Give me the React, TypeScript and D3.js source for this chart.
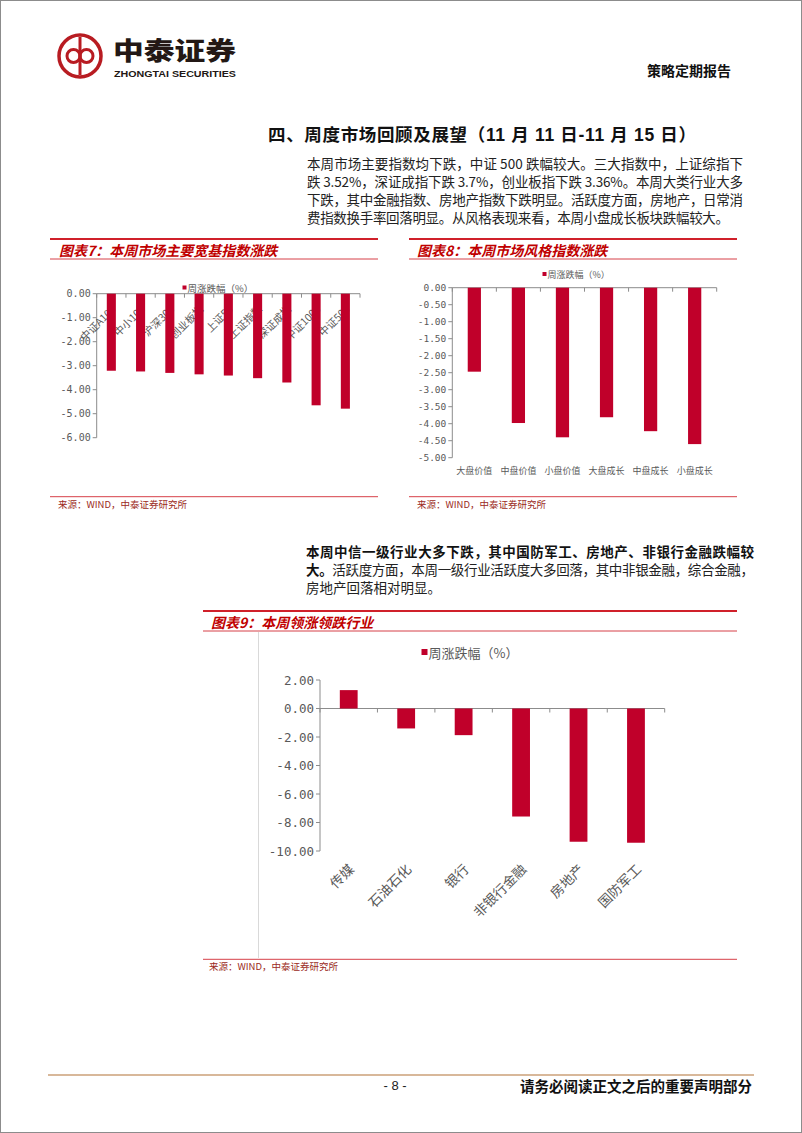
import React from "react";
import * as d3 from "d3";

// ---------- data ----------
const cats7 = ["中证A100", "中小100", "沪深300", "创业板指", "上证50", "上证指数", "深证成指", "中证1000", "中证500"];
const vals7 = [-3.21, -3.24, -3.3, -3.36, -3.41, -3.52, -3.7, -4.65, -4.79];

const cats8 = ["大盘价值", "中盘价值", "小盘价值", "大盘成长", "中盘成长", "小盘成长"];
const vals8 = [-2.47, -3.98, -4.4, -3.81, -4.22, -4.6];

const cats9 = ["传媒", "石油石化", "银行", "非银行金融", "房地产", "国防军工"];
const vals9 = [1.29, -1.4, -1.87, -7.58, -9.35, -9.42];

const legendLabel = "周涨跌幅（%）";
const sourceLabel = "来源：WIND，中泰证券研究所";

const heading = "四、周度市场回顾及展望（11 月 11 日-11 月 15 日）";
const para1 = [
  "本周市场主要指数均下跌，中证 500 跌幅较大。三大指数中，上证综指下",
  "跌 3.52%，深证成指下跌 3.7%，创业板指下跌 3.36%。本周大类行业大多",
  "下跌，其中金融指数、房地产指数下跌明显。活跃度方面，房地产，日常消",
  "费指数换手率回落明显。从风格表现来看，本周小盘成长板块跌幅较大。",
];
const para2Bold1 = "本周中信一级行业大多下跌，其中国防军工、房地产、非银行金融跌幅较";
const para2Bold2 = "大。";
const para2Line2 = "活跃度方面，本周一级行业活跃度大多回落，其中非银金融，综合金融，";
const para2Line3 = "房地产回落相对明显。";

// ---------- styles ----------
const CJK = "'Noto Sans CJK SC', 'Noto Sans', sans-serif";
const LAT = "'Liberation Sans', 'Noto Sans CJK SC', sans-serif";
const NUM = "'DejaVu Sans Mono', monospace";
const BAR = "#c0002a";
const AXIS = "#8c8c8c";
const TXT = "#595959";
const TITLE_RED = "#c00000";
const LINE_RED = "#d0202a";

type ChartProps = {
  cats: string[];
  vals: number[];
  x0: number;
  x1: number;
  yTop: number;
  yBot: number;
  dMin: number;
  dMax: number;
  step: number;
  barFrac: number;
  tickFont: number;
  labelMode: "rotAxis" | "rotBottom" | "flat";
  labelFont: number;
  labelOff: number;
  labelDx: number;
  legendX: number;
  legendY: number;
  legendFont: number;
  legendSq: number;
  axisLeftExt?: number;
};

function BarChart(p: ChartProps) {
  const x = d3.scaleBand<string>().domain(p.cats).range([p.x0, p.x1]);
  const y = d3.scaleLinear().domain([p.dMin, p.dMax]).range([p.yBot, p.yTop]);
  const ticks = d3.range(p.dMin, p.dMax + p.step / 2, p.step);
  const bw = x.bandwidth();
  const y0 = y(0);
  const barW = bw * p.barFrac;
  const boundaries = [...p.cats.map((c) => x(c) as number), p.x1];

  const labels = p.cats.map((c) => {
    const cx = (x(c) as number) + bw / 2;
    if (p.labelMode === "flat") {
      const ly = y(p.dMin) + p.labelOff;
      return (
        <text key={c} x={cx} y={ly} textAnchor="middle" dominantBaseline="central" fontSize={p.labelFont} fontFamily={CJK} fill={TXT}>
          {c}
        </text>
      );
    }
    const ly = p.labelMode === "rotAxis" ? y0 + p.labelOff : y(p.dMin) + p.labelOff;
    const lx = cx + p.labelDx;
    return (
      <text key={c} x={lx} y={ly} textAnchor="end" dominantBaseline="central" fontSize={p.labelFont} fontFamily={CJK} fill={TXT} transform={`rotate(-45, ${lx}, ${ly})`}>
        {c}
      </text>
    );
  });

  return (
    <g>
      {/* legend */}
      <rect x={p.legendX} y={p.legendY - p.legendSq / 2} width={p.legendSq} height={p.legendSq} fill={BAR} />
      <text x={p.legendX + p.legendSq + 1} y={p.legendY} dominantBaseline="central" fontSize={p.legendFont} fontFamily={CJK} fill={TXT}>
        {legendLabel}
      </text>
      {/* y axis */}
      <line x1={p.x0} x2={p.x0} y1={y(p.dMax)} y2={y(p.dMin)} stroke={AXIS} strokeWidth={1} />
      {ticks.map((t) => (
        <g key={t}>
          <line x1={p.x0 - 4} x2={p.x0} y1={y(t)} y2={y(t)} stroke={AXIS} />
          <text x={p.x0 - 6} y={y(t)} textAnchor="end" dominantBaseline="central" fontSize={p.tickFont} fontFamily={NUM} fill={TXT}>
            {t.toFixed(2)}
          </text>
        </g>
      ))}
      {/* x axis */}
      <line x1={p.x0 - (p.axisLeftExt || 0)} x2={p.x1} y1={y0} y2={y0} stroke={AXIS} />
      {boundaries.map((b, i) => (
        <line key={i} x1={b} x2={b} y1={y0} y2={y0 + 4} stroke={AXIS} />
      ))}
      {labels}
      {/* bars */}
      {p.vals.map((v, i) => {
        const cx = (x(p.cats[i]) as number) + bw / 2;
        const yv = y(v);
        return <rect key={i} x={cx - barW / 2} y={Math.min(yv, y0)} width={barW} height={Math.abs(yv - y0)} fill={BAR} />;
      })}
    </g>
  );
}

function ChartTitle({ x0, x1, yTop, tx, text }: { x0: number; x1: number; yTop: number; tx: number; text: string }) {
  return (
    <g>
      <line x1={x0} x2={x1} y1={yTop} y2={yTop} stroke={LINE_RED} strokeWidth={2} />
      <line x1={x0} x2={x1} y1={yTop + 20} y2={yTop + 20} stroke={LINE_RED} strokeWidth={1} opacity={0.85} />
      <text x={tx} y={yTop + 11} dominantBaseline="central" fontSize={14} fontWeight={700} fontStyle="italic" fontFamily={CJK} fill={TITLE_RED}>
        {text}
      </text>
    </g>
  );
}

function Source({ x0, x1, y, tx }: { x0: number; x1: number; y: number; tx: number }) {
  return (
    <g>
      <line x1={x0} x2={x1} y1={y} y2={y} stroke={LINE_RED} strokeWidth={1} opacity={0.85} />
      <text x={tx} y={y + 7} dominantBaseline="central" fontSize={9.5} fontFamily={CJK} fill="#9b2a22">
        {sourceLabel}
      </text>
    </g>
  );
}

export default function App() {
  return (
    <div style={{ position: "absolute", left: 0, top: 0 }}>
      <svg width={802} height={1133} viewBox="0 0 802 1133" style={{ display: "block", background: "#fff" }}>
        <rect x={0.5} y={0.5} width={801} height={1132} fill="#fff" stroke="#8c8c8c" strokeWidth={1} />

        {/* header logo */}
        <g>
          <circle cx={80} cy={56} r={21} fill="none" stroke="#b81c22" strokeWidth={3.5} />
          <line x1={80} x2={80} y1={37} y2={75} stroke="#b81c22" strokeWidth={3} />
          <circle cx={73.5} cy={56} r={6.5} fill="none" stroke="#b81c22" strokeWidth={3} />
          <circle cx={86.5} cy={56} r={6.5} fill="none" stroke="#b81c22" strokeWidth={3} />
          <text x={113} y={48.5} dominantBaseline="central" fontSize={25} fontWeight={900} fontFamily={CJK} fill="#231815" textLength={123} lengthAdjust="spacingAndGlyphs">
            中泰证券
          </text>
          <text x={114} y={73.5} dominantBaseline="central" fontSize={9} fontWeight={700} fontFamily={LAT} fill="#231815" textLength={122} lengthAdjust="spacingAndGlyphs">
            ZHONGTAI SECURITIES
          </text>
          <text x={731} y={70} textAnchor="end" dominantBaseline="central" fontSize={14} fontWeight={700} fontFamily={CJK} fill="#111">
            策略定期报告
          </text>
        </g>

        {/* heading */}
        <text x={268} y={135} dominantBaseline="central" fontSize={17.5} fontWeight={700} fontFamily={LAT} fill="#111" textLength={428} lengthAdjust="spacing">
          {heading}
        </text>

        {/* paragraph 1 */}
        {para1.map((l, i) => (
          <text key={i} x={307} y={163 + i * 18} dominantBaseline="central" fontSize={13.5} fontFamily={CJK} fill="#222" textLength={i < 3 ? 436 : 422} lengthAdjust="spacing">
            {l}
          </text>
        ))}

        {/* chart 7 */}
        <ChartTitle x0={50} x1={378} yTop={239} tx={59} text="图表7：本周市场主要宽基指数涨跌" />
        <BarChart
          cats={cats7}
          vals={vals7}
          x0={96.7}
          x1={360}
          yTop={293.7}
          yBot={437.7}
          dMin={-6}
          dMax={0}
          step={1}
          barFrac={0.31}
          tickFont={10}
          labelMode="rotAxis"
          labelFont={10.5}
          labelOff={13}
          labelDx={2}
          legendX={182.5}
          legendY={287.5}
          legendFont={9.5}
          legendSq={4}
        />
        <Source x0={50} x1={378} y={496.7} tx={58} />

        {/* chart 8 */}
        <ChartTitle x0={409} x1={737} yTop={239} tx={417} text="图表8：本周市场风格指数涨跌" />
        <BarChart
          cats={cats8}
          vals={vals8}
          x0={452.3}
          x1={716.7}
          yTop={287.7}
          yBot={457.7}
          dMin={-5}
          dMax={0}
          step={0.5}
          barFrac={0.3}
          tickFont={9.5}
          labelMode="flat"
          labelFont={9}
          labelOff={12.5}
          labelDx={0}
          legendX={542.5}
          legendY={274}
          legendFont={9}
          legendSq={4}
        />
        <Source x0={409} x1={737} y={496.7} tx={417} />

        {/* paragraph 2 */}
        <text x={306} y={551} dominantBaseline="central" fontSize={13.5} fontWeight={700} fontFamily={CJK} fill="#111" textLength={448} lengthAdjust="spacing">
          {para2Bold1}
        </text>
        <text x={306} y={569} dominantBaseline="central" fontSize={13.5} fontFamily={CJK} fill="#222" textLength={448} lengthAdjust="spacing">
          <tspan fontWeight={700} fill="#111">{para2Bold2}</tspan>
          <tspan>{para2Line2}</tspan>
        </text>
        <text x={306} y={587} dominantBaseline="central" fontSize={13.5} fontFamily={CJK} fill="#222">
          {para2Line3}
        </text>

        {/* chart 9 */}
        <ChartTitle x0={203} x1={737} yTop={611} tx={211} text="图表9：本周领涨领跌行业" />
        <line x1={258.5} x2={258.5} y1={632} y2={958} stroke="#d9d9d9" strokeWidth={1} />
        <BarChart
          cats={cats9}
          vals={vals9}
          x0={320}
          x1={664.7}
          yTop={680}
          yBot={851}
          dMin={-10}
          dMax={2}
          step={2}
          barFrac={0.31}
          tickFont={12.5}
          labelMode="rotBottom"
          labelFont={13.5}
          labelOff={15}
          labelDx={2}
          legendX={421.5}
          legendY={652}
          legendFont={13}
          legendSq={6}
          axisLeftExt={3}
        />
        <Source x0={203} x1={737} y={959.3} tx={209} />

        {/* footer */}
        <line x1={48} x2={754} y1={1075} y2={1075} stroke="#d8b89a" strokeWidth={2} />
        <text x={395} y={1085} textAnchor="middle" dominantBaseline="central" fontSize={13} fontFamily={LAT} fill="#222">
          - 8 -
        </text>
        <text x={752} y={1085} textAnchor="end" dominantBaseline="central" fontSize={14.5} fontWeight={700} fontFamily={CJK} fill="#111">
          请务必阅读正文之后的重要声明部分
        </text>
      </svg>
    </div>
  );
}
